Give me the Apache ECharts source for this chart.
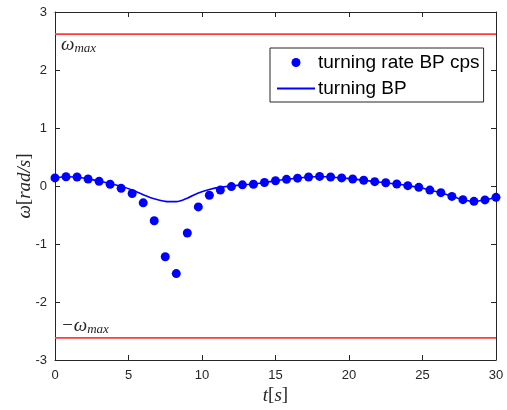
<!DOCTYPE html>
<html>
<head>
<meta charset="utf-8">
<script src="https://cdn.jsdelivr.net/npm/echarts@6/dist/echarts.min.js"></script>
<style>
  html, body { margin: 0; padding: 0; background: #fff; }
  #chart { width: 507px; height: 410px; }
</style>
</head>
<body>
<div id="chart"></div>
<script>
// time samples [s]
const timeS = [0, 0.75, 1.5, 2.25, 3, 3.75, 4.5, 5.25, 6, 6.75, 7.5, 8.25, 9, 9.75,
  10.5, 11.25, 12, 12.75, 13.5, 14.25, 15, 15.75, 16.5, 17.25, 18, 18.75, 19.5,
  20.25, 21, 21.75, 22.5, 23.25, 24, 24.75, 25.5, 26.25, 27, 27.75, 28.5, 29.25, 30];

// turning rate of the BP with constraint projection (markers)
const rateCps = [0.14, 0.16, 0.155, 0.12, 0.08, 0.03, -0.04, -0.13, -0.29, -0.60,
  -1.22, -1.51, -0.81, -0.36, -0.16, -0.07, -0.01, 0.02, 0.03, 0.06, 0.09, 0.115,
  0.135, 0.155, 0.165, 0.155, 0.14, 0.12, 0.10, 0.075, 0.057, 0.034, 0.006, -0.023,
  -0.07, -0.115, -0.18, -0.235, -0.265, -0.24, -0.195];

// turning rate of the BP (solid line)
const rateBp = [0.14, 0.16, 0.155, 0.12, 0.085, 0.04, -0.005, -0.07, -0.15, -0.22,
  -0.265, -0.27, -0.21, -0.12, -0.06, -0.02, 0.0, 0.02, 0.035, 0.06, 0.09, 0.115,
  0.135, 0.155, 0.165, 0.155, 0.14, 0.12, 0.10, 0.075, 0.057, 0.034, 0.006, -0.023,
  -0.07, -0.115, -0.18, -0.235, -0.265, -0.24, -0.195];

// turning rate limit [rad/s]
const omegaMax = 2.62;
const tRange = [0, 30];

const axisColor = '#262626';
const tickFont = { fontFamily: 'Liberation Sans, Arial, sans-serif', fontSize: 13, color: axisColor };
const mathFont = 'Liberation Serif, DejaVu Serif, serif';

const chart = echarts.init(document.getElementById('chart'), null, { renderer: 'canvas' });

const boxAxis = (show) => ({
  axisLine: { show: true, onZero: false, lineStyle: { color: axisColor, width: 1 } },
  axisTick: { show: true, inside: true, length: 5, lineStyle: { color: axisColor } },
  splitLine: { show: false },
  axisLabel: Object.assign({ show: show }, tickFont)
});

const mathRich = {
  i: { fontFamily: mathFont, fontStyle: 'italic', fontSize: 19, color: axisColor },
  n: { fontFamily: mathFont, fontSize: 19, color: axisColor }
};

const limitLabel = (text, top) => ({
  type: 'text', left: 61, top: top, silent: true,
  style: {
    text: text,
    rich: {
      w: { fontFamily: mathFont, fontStyle: 'italic', fontSize: 19, fill: axisColor },
      s: { fontFamily: mathFont, fontStyle: 'italic', fontSize: 13, fill: axisColor, padding: [8, 0, 0, 0] }
    }
  }
});

chart.setOption({
  animation: false,
  backgroundColor: '#fff',
  grid: { left: 55, right: 11, top: 12, bottom: 50, containLabel: false, outerBoundsMode: 'none' },
  xAxis: [
    Object.assign({
      type: 'value', position: 'bottom', min: 0, max: 30, interval: 5,
      name: '{i|t}{n|[}{i|s}{n|]}', nameLocation: 'middle', nameGap: 26, nameMoveOverlap: false,
      nameTextStyle: { rich: mathRich }
    }, boxAxis(true), { axisLabel: Object.assign({ margin: 9 }, tickFont) }),
    Object.assign({ type: 'value', position: 'top', min: 0, max: 30, interval: 5 }, boxAxis(false))
  ],
  yAxis: [
    Object.assign({
      type: 'value', position: 'left', min: -3, max: 3, interval: 1,
      name: '{i|ω}{n|[}{i|rad/s}{n|]}', nameLocation: 'middle', nameGap: 21, nameRotate: 90,
      nameMoveOverlap: false,
      nameTextStyle: { rich: mathRich }
    }, boxAxis(true), { axisLabel: Object.assign({ margin: 8 }, tickFont) }),
    Object.assign({ type: 'value', position: 'right', min: -3, max: 3, interval: 1 }, boxAxis(false))
  ],
  legend: {
    orient: 'vertical',
    left: 270, top: 48,
    padding: [5, 4, 4, 7],
    itemGap: 7,
    itemWidth: 38, itemHeight: 9,
    backgroundColor: '#fff',
    borderColor: axisColor, borderWidth: 1, borderRadius: 0,
    textStyle: { fontFamily: 'Liberation Sans, Arial, sans-serif', fontSize: 19, color: '#000', padding: [0, 0, 0, -2] },
    data: [
      { name: 'turning rate BP cps', icon: 'circle' },
      { name: 'turning BP', icon: 'path://M0 0H38V2H0Z' }
    ]
  },
  graphic: [
    limitLabel('{w|ω}{s|max}', 35),
    limitLabel('{w|−ω}{s|max}', 316)
  ],
  series: [
    {
      name: 'omega max', type: 'line', silent: true, symbol: 'none',
      lineStyle: { color: '#ff3b3b', width: 1.8 },
      data: tRange.map(t => [t, omegaMax]), z: 1
    },
    {
      name: 'omega min', type: 'line', silent: true, symbol: 'none',
      lineStyle: { color: '#ff3b3b', width: 1.8 },
      data: tRange.map(t => [t, -omegaMax]), z: 1
    },
    {
      name: 'turning rate BP cps', type: 'scatter',
      symbol: 'circle', symbolSize: 9,
      itemStyle: { color: '#0000ff', opacity: 1 },
      data: timeS.map((t, i) => [t, rateCps[i]]), z: 3
    },
    {
      name: 'turning BP', type: 'line',
      smooth: 0.3, showSymbol: false, symbol: 'none',
      lineStyle: { color: '#0000ff', width: 1.6 },
      itemStyle: { color: '#0000ff' },
      data: timeS.map((t, i) => [t, rateBp[i]]), z: 4
    }
  ]
});
</script>
</body>
</html>
